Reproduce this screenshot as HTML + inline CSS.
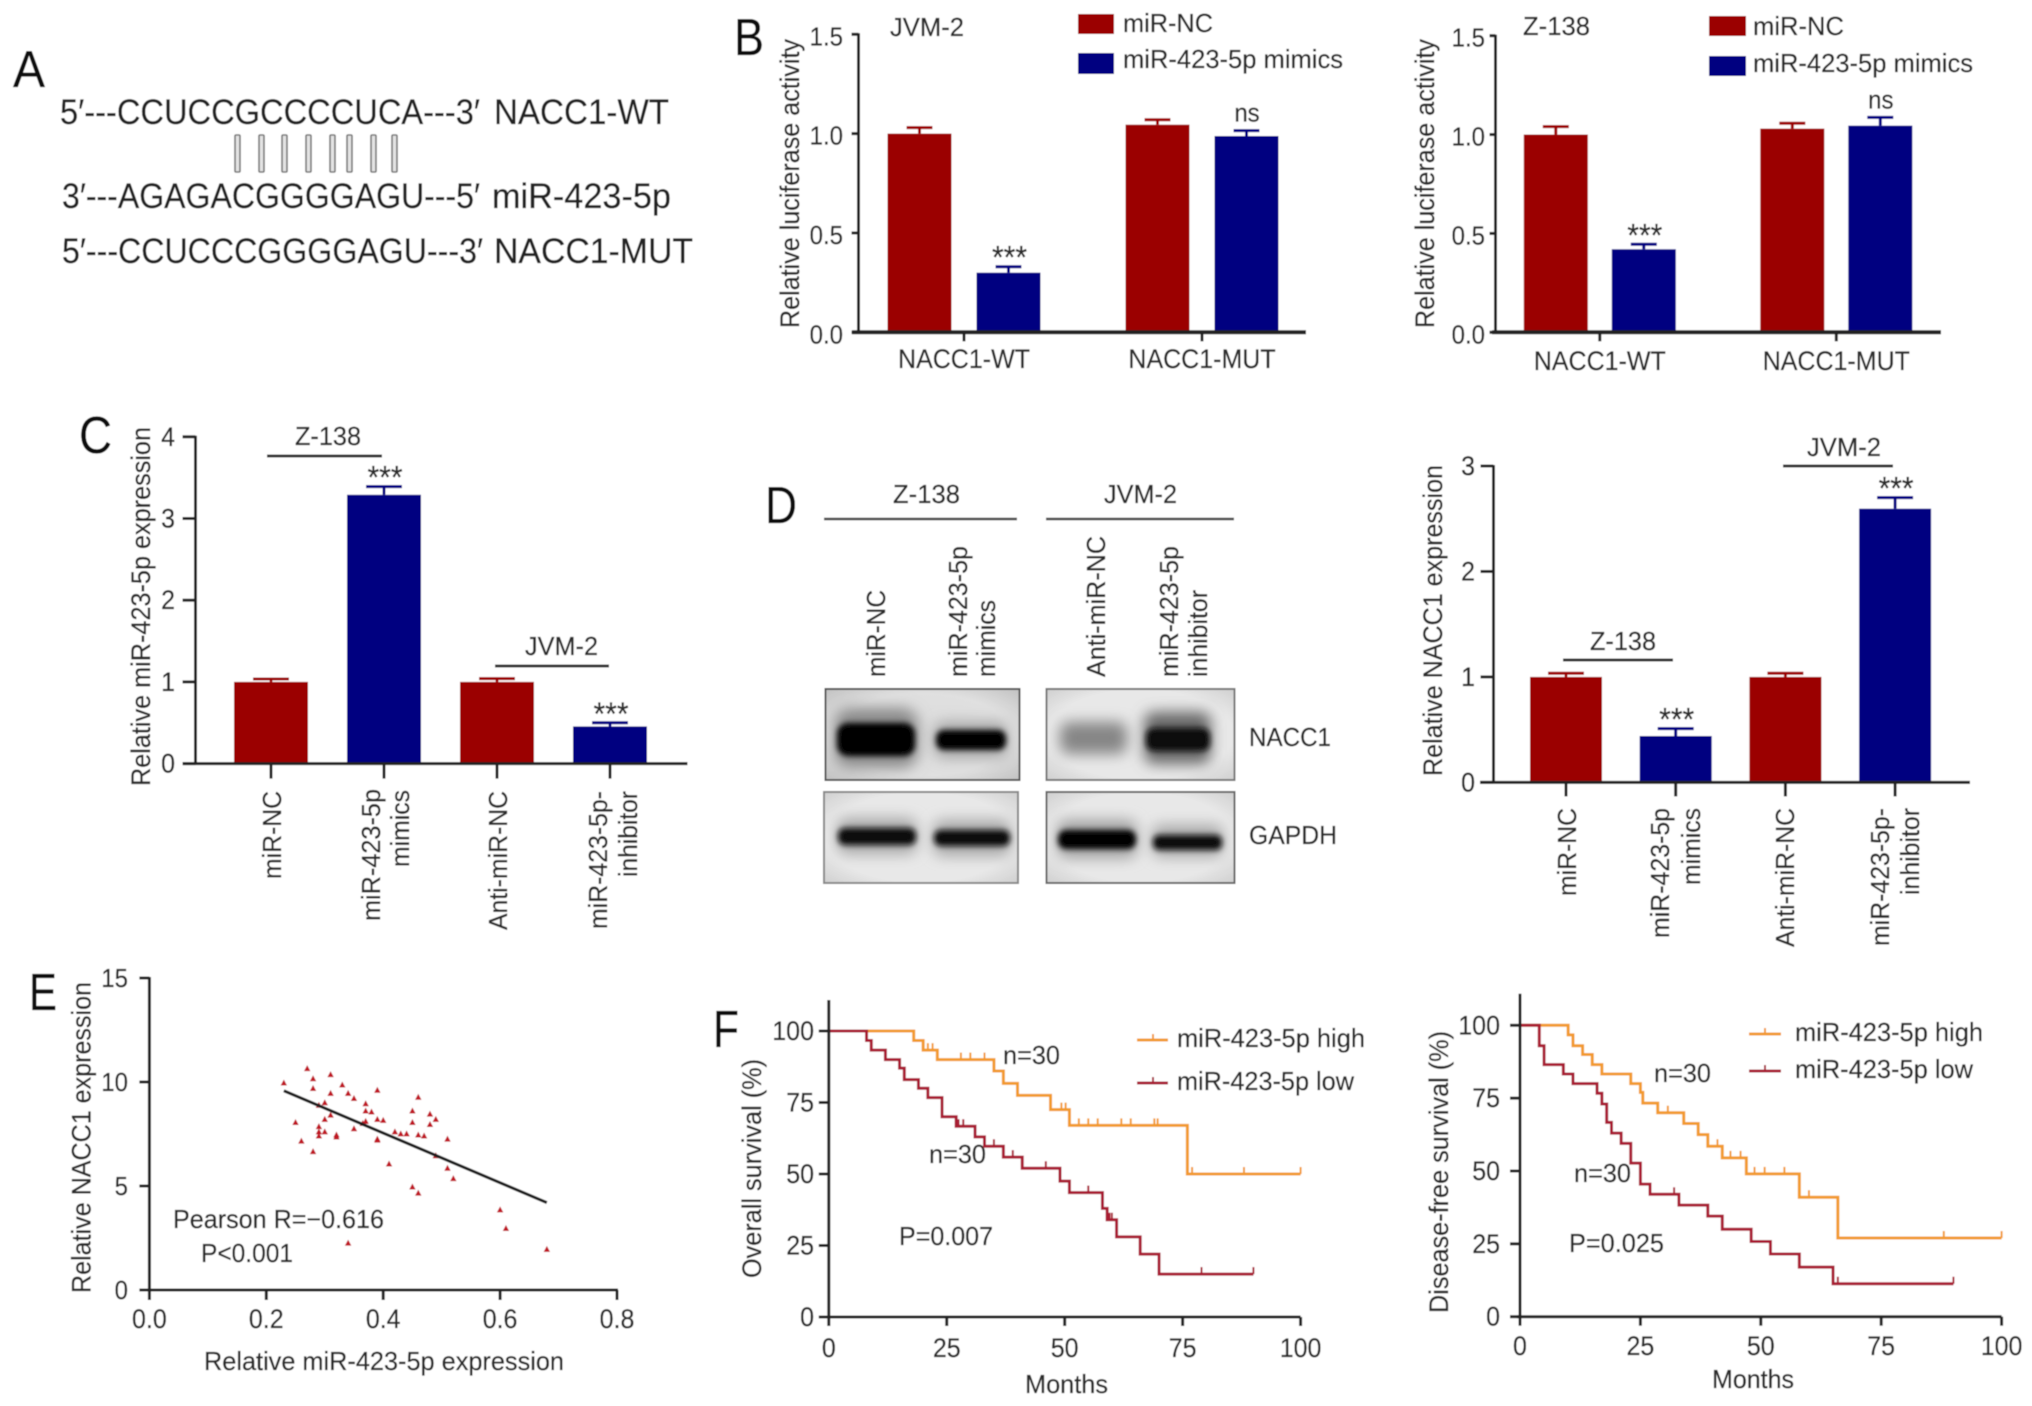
<!DOCTYPE html>
<html lang="en">
<head>
<meta charset="utf-8">
<title>miR-423-5p and NACC1 figure</title>
<style>
html,body{margin:0;padding:0;background:#fff;}
svg{display:block;}
text{font-family:"Liberation Sans",sans-serif;fill:#2c2c2c;stroke:#2c2c2c;stroke-width:0.3px;}
.letter{font-size:52px;fill:#111;stroke:#111;}
.seq{font-size:35px;fill:#222;stroke:#222;}
.lab{font-size:26px;}
.ttl{font-size:27px;}
</style>
</head>
<body>
<svg id="figure" xmlns="http://www.w3.org/2000/svg" width="2032" height="1406" viewBox="0 0 2032 1406">
<defs>
<filter id="soft" x="0" y="0" width="100%" height="100%" filterUnits="objectBoundingBox"><feGaussianBlur stdDeviation="0.6"/></filter>
<filter id="b2" x="-30%" y="-60%" width="160%" height="220%"><feGaussianBlur stdDeviation="3"/></filter>
<filter id="b6" x="-30%" y="-80%" width="160%" height="260%"><feGaussianBlur stdDeviation="7"/></filter>
<radialGradient id="blotBg" cx="50%" cy="50%" r="70%"><stop offset="0" stop-color="#dcdcdc"/><stop offset="0.65" stop-color="#e0e0e0"/><stop offset="1" stop-color="#c2c2c2"/></radialGradient>
<radialGradient id="blotBgLight" cx="50%" cy="50%" r="70%"><stop offset="0" stop-color="#e8e8e8"/><stop offset="0.7" stop-color="#e8e8e8"/><stop offset="1" stop-color="#d0d0d0"/></radialGradient>
<clipPath id="clipTL"><rect x="825" y="689" width="195" height="91"/></clipPath>
<clipPath id="clipTR"><rect x="1046" y="689" width="189" height="91"/></clipPath>
<clipPath id="clipBL"><rect x="824" y="792" width="194" height="91"/></clipPath>
<clipPath id="clipBR"><rect x="1046" y="792" width="189" height="91"/></clipPath>
</defs>
<g id="root" filter="url(#soft)">
<rect x="0" y="0" width="2032" height="1406" fill="#fff"/>

<!-- Panel letters -->
<text class="letter" x="13" y="87" textLength="32" lengthAdjust="spacingAndGlyphs">A</text>
<text class="letter" x="734" y="55" textLength="30" lengthAdjust="spacingAndGlyphs">B</text>
<text class="letter" x="79" y="453" textLength="33" lengthAdjust="spacingAndGlyphs">C</text>
<text class="letter" x="765" y="523" textLength="32" lengthAdjust="spacingAndGlyphs">D</text>
<text class="letter" x="29" y="1010" textLength="28" lengthAdjust="spacingAndGlyphs">E</text>
<text class="letter" x="713" y="1047" textLength="26" lengthAdjust="spacingAndGlyphs">F</text>

<!-- Panel A -->
<g>
<text class="seq" x="60" y="124" textLength="420" lengthAdjust="spacingAndGlyphs">5′---CCUCCGCCCCUCA---3′</text>
<text class="seq" x="494" y="124" textLength="175" lengthAdjust="spacingAndGlyphs">NACC1-WT</text>
<g fill="#e4e4e4" stroke="#777" stroke-width="1.6">
<rect x="235" y="135" width="5" height="37" rx="1"/>
<rect x="259" y="135" width="5" height="37" rx="1"/>
<rect x="282" y="135" width="5" height="37" rx="1"/>
<rect x="306" y="135" width="5" height="37" rx="1"/>
<rect x="330" y="135" width="5" height="37" rx="1"/>
<rect x="347" y="135" width="5" height="37" rx="1"/>
<rect x="371" y="135" width="5" height="37" rx="1"/>
<rect x="392" y="135" width="5" height="37" rx="1"/>
</g>
<text class="seq" x="62" y="208" textLength="418" lengthAdjust="spacingAndGlyphs">3′---AGAGACGGGGAGU---5′</text>
<text class="seq" x="492" y="208" textLength="179" lengthAdjust="spacingAndGlyphs">miR-423-5p</text>
<text class="seq" x="62" y="263" textLength="421" lengthAdjust="spacingAndGlyphs">5′---CCUCCCGGGGAGU---3′</text>
<text class="seq" x="494" y="263" textLength="199" lengthAdjust="spacingAndGlyphs">NACC1-MUT</text>
</g>

<!-- Panel B static labels -->
<g>
<text class="ttl" transform="translate(799,328) rotate(-90)" textLength="289" lengthAdjust="spacingAndGlyphs">Relative luciferase activity</text>
<text class="lab" x="890" y="36" textLength="74" lengthAdjust="spacingAndGlyphs">JVM-2</text>
<rect x="1078" y="14" width="36" height="20" fill="#9b0000"/>
<text class="lab" x="1123" y="32" textLength="90" lengthAdjust="spacingAndGlyphs">miR-NC</text>
<rect x="1078" y="53" width="36" height="21" fill="#000080"/>
<text class="lab" x="1123" y="68" textLength="220" lengthAdjust="spacingAndGlyphs">miR-423-5p mimics</text>
</g>
<g>
<text class="ttl" transform="translate(1434,328) rotate(-90)" textLength="289" lengthAdjust="spacingAndGlyphs">Relative luciferase activity</text>
<text class="lab" x="1523" y="35" textLength="67" lengthAdjust="spacingAndGlyphs">Z-138</text>
<rect x="1709" y="16" width="37" height="20" fill="#9b0000"/>
<text class="lab" x="1753" y="35" textLength="91" lengthAdjust="spacingAndGlyphs">miR-NC</text>
<rect x="1709" y="56" width="37" height="20" fill="#000080"/>
<text class="lab" x="1753" y="72" textLength="220" lengthAdjust="spacingAndGlyphs">miR-423-5p mimics</text>
</g>

<!-- Panel C static labels -->
<g>
<text class="ttl" transform="translate(150,786) rotate(-90)" textLength="359" lengthAdjust="spacingAndGlyphs">Relative miR-423-5p expression</text>
<text class="lab" x="295" y="445" textLength="66" lengthAdjust="spacingAndGlyphs">Z-138</text>
<line x1="267" y1="456" x2="382" y2="456" stroke="#333" stroke-width="3"/>
<text class="lab" x="525" y="655" textLength="73" lengthAdjust="spacingAndGlyphs">JVM-2</text>
<line x1="495" y1="666" x2="609" y2="666" stroke="#333" stroke-width="3"/>
<text class="lab" transform="translate(281,879) rotate(-90)" textLength="88" lengthAdjust="spacingAndGlyphs">miR-NC</text>
<text class="lab" transform="translate(380,921) rotate(-90)" textLength="132" lengthAdjust="spacingAndGlyphs">miR-423-5p</text>
<text class="lab" transform="translate(409,867) rotate(-90)" textLength="77" lengthAdjust="spacingAndGlyphs">mimics</text>
<text class="lab" transform="translate(507,930) rotate(-90)" textLength="139" lengthAdjust="spacingAndGlyphs">Anti-miR-NC</text>
<text class="lab" transform="translate(607,929) rotate(-90)" textLength="138" lengthAdjust="spacingAndGlyphs">miR-423-5p-</text>
<text class="lab" transform="translate(637,877) rotate(-90)" textLength="86" lengthAdjust="spacingAndGlyphs">inhibitor</text>
</g>

<!-- Panel D blots -->
<g>
<text class="lab" x="893" y="503" textLength="67" lengthAdjust="spacingAndGlyphs">Z-138</text>
<line x1="824" y1="519" x2="1017" y2="519" stroke="#444" stroke-width="2.4"/>
<text class="lab" x="1104" y="503" textLength="73" lengthAdjust="spacingAndGlyphs">JVM-2</text>
<line x1="1046" y1="519" x2="1234" y2="519" stroke="#444" stroke-width="2.4"/>
<text class="lab" transform="translate(885,677) rotate(-90)" textLength="87" lengthAdjust="spacingAndGlyphs">miR-NC</text>
<text class="lab" transform="translate(967,677) rotate(-90)" textLength="131" lengthAdjust="spacingAndGlyphs">miR-423-5p</text>
<text class="lab" transform="translate(995,677) rotate(-90)" textLength="77" lengthAdjust="spacingAndGlyphs">mimics</text>
<text class="lab" transform="translate(1105,677) rotate(-90)" textLength="141" lengthAdjust="spacingAndGlyphs">Anti-miR-NC</text>
<text class="lab" transform="translate(1178,677) rotate(-90)" textLength="131" lengthAdjust="spacingAndGlyphs">miR-423-5p</text>
<text class="lab" transform="translate(1207,677) rotate(-90)" textLength="87" lengthAdjust="spacingAndGlyphs">inhibitor</text>

<g>
<rect x="825.5" y="689" width="194" height="91" fill="url(#blotBg)"/>
<g clip-path="url(#clipTL)">
<rect x="834" y="708" width="84" height="60" rx="16" fill="#8a8a8a" filter="url(#b6)"/>
<rect x="837" y="723" width="78" height="33" rx="11" fill="#000" filter="url(#b2)"/>
<rect x="934" y="722" width="74" height="36" rx="10" fill="#a6a6a6" filter="url(#b6)"/>
<rect x="936" y="730" width="70" height="20" rx="8" fill="#060606" filter="url(#b2)"/>
</g>
<rect x="825.5" y="689" width="194" height="91" fill="none" stroke="#555" stroke-width="2"/>
</g>
<g>
<rect x="1046.5" y="689" width="188" height="91" fill="url(#blotBgLight)"/>
<g clip-path="url(#clipTR)">
<rect x="1060" y="722" width="67" height="32" rx="9" fill="#868686" filter="url(#b6)"/>
<rect x="1144" y="712" width="67" height="52" rx="10" fill="#686868" filter="url(#b6)"/>
<rect x="1146" y="728" width="64" height="23" rx="8" fill="#0a0a0a" filter="url(#b2)"/>
</g>
<rect x="1046.5" y="689" width="188" height="91" fill="none" stroke="#777" stroke-width="2"/>
</g>
<g>
<rect x="824" y="792" width="194" height="91" fill="url(#blotBgLight)"/>
<g clip-path="url(#clipBL)">
<rect x="837" y="818" width="80" height="36" rx="10" fill="#a8a8a8" filter="url(#b6)"/>
<rect x="838" y="828" width="78" height="17" rx="7" fill="#0b0b0b" filter="url(#b2)"/>
<rect x="933" y="820" width="78" height="36" rx="10" fill="#a8a8a8" filter="url(#b6)"/>
<rect x="934" y="830" width="76" height="16" rx="7" fill="#0e0e0e" filter="url(#b2)"/>
</g>
<rect x="824" y="792" width="194" height="91" fill="none" stroke="#888" stroke-width="2"/>
</g>
<g>
<rect x="1046.5" y="792" width="188" height="91" fill="url(#blotBgLight)"/>
<g clip-path="url(#clipBR)">
<rect x="1057" y="820" width="80" height="38" rx="10" fill="#a0a0a0" filter="url(#b6)"/>
<rect x="1058" y="830" width="78" height="19" rx="8" fill="#060606" filter="url(#b2)"/>
<rect x="1152" y="825" width="71" height="32" rx="9" fill="#a8a8a8" filter="url(#b6)"/>
<rect x="1153" y="835" width="69" height="15" rx="6" fill="#0e0e0e" filter="url(#b2)"/>
</g>
<rect x="1046.5" y="792" width="188" height="91" fill="none" stroke="#666" stroke-width="2"/>
</g>
<text class="lab" x="1249" y="746" textLength="82" lengthAdjust="spacingAndGlyphs">NACC1</text>
<text class="lab" x="1249" y="844" textLength="88" lengthAdjust="spacingAndGlyphs">GAPDH</text>
</g>

<!-- Panel D bar chart static labels -->
<g>
<text class="ttl" transform="translate(1442,776) rotate(-90)" textLength="311" lengthAdjust="spacingAndGlyphs">Relative NACC1 expression</text>
<text class="lab" x="1590" y="650" textLength="66" lengthAdjust="spacingAndGlyphs">Z-138</text>
<line x1="1563" y1="660" x2="1673" y2="660" stroke="#333" stroke-width="3"/>
<text class="lab" x="1807" y="456" textLength="74" lengthAdjust="spacingAndGlyphs">JVM-2</text>
<line x1="1783" y1="466" x2="1893" y2="466" stroke="#333" stroke-width="3"/>
<text class="lab" transform="translate(1576,896) rotate(-90)" textLength="88" lengthAdjust="spacingAndGlyphs">miR-NC</text>
<text class="lab" transform="translate(1669,938) rotate(-90)" textLength="130" lengthAdjust="spacingAndGlyphs">miR-423-5p</text>
<text class="lab" transform="translate(1700,885) rotate(-90)" textLength="77" lengthAdjust="spacingAndGlyphs">mimics</text>
<text class="lab" transform="translate(1794,947) rotate(-90)" textLength="139" lengthAdjust="spacingAndGlyphs">Anti-miR-NC</text>
<text class="lab" transform="translate(1889,946) rotate(-90)" textLength="138" lengthAdjust="spacingAndGlyphs">miR-423-5p-</text>
<text class="lab" transform="translate(1919,895) rotate(-90)" textLength="87" lengthAdjust="spacingAndGlyphs">inhibitor</text>
</g>

<!-- Panel E static labels -->
<g>
<text class="ttl" transform="translate(90.5,1293) rotate(-90)" textLength="311" lengthAdjust="spacingAndGlyphs">Relative NACC1 expression</text>
<text class="lab" x="204" y="1370" textLength="360" lengthAdjust="spacingAndGlyphs">Relative miR-423-5p expression</text>
<text class="lab" x="173" y="1228" textLength="211" lengthAdjust="spacingAndGlyphs">Pearson R=−0.616</text>
<text class="lab" x="201" y="1262" textLength="92" lengthAdjust="spacingAndGlyphs">P&lt;0.001</text>
</g>

<!-- Panel F static labels -->
<g>
<text class="ttl" transform="translate(761,1278) rotate(-90)" textLength="219" lengthAdjust="spacingAndGlyphs">Overall survival (%)</text>
<text class="lab" x="1025" y="1393" textLength="83" lengthAdjust="spacingAndGlyphs">Months</text>
<text class="lab" x="1003" y="1064" textLength="57" lengthAdjust="spacingAndGlyphs">n=30</text>
<text class="lab" x="929" y="1163" textLength="57" lengthAdjust="spacingAndGlyphs">n=30</text>
<text class="lab" x="899" y="1245" textLength="94" lengthAdjust="spacingAndGlyphs">P=0.007</text>
<line x1="1137" y1="1040" x2="1168" y2="1040" stroke="#f29a2e" stroke-width="3"/>
<line x1="1153" y1="1040" x2="1153" y2="1034" stroke="#f29a2e" stroke-width="2"/>
<text class="lab" x="1177" y="1047" textLength="188" lengthAdjust="spacingAndGlyphs">miR-423-5p high</text>
<line x1="1137" y1="1083" x2="1168" y2="1083" stroke="#a81c30" stroke-width="3"/>
<line x1="1153" y1="1083" x2="1153" y2="1077" stroke="#a81c30" stroke-width="2"/>
<text class="lab" x="1177" y="1090" textLength="177" lengthAdjust="spacingAndGlyphs">miR-423-5p low</text>
</g>
<g>
<text class="ttl" transform="translate(1448,1313) rotate(-90)" textLength="282" lengthAdjust="spacingAndGlyphs">Disease-free survival (%)</text>
<text class="lab" x="1712" y="1388" textLength="82" lengthAdjust="spacingAndGlyphs">Months</text>
<text class="lab" x="1654" y="1082" textLength="57" lengthAdjust="spacingAndGlyphs">n=30</text>
<text class="lab" x="1574" y="1182" textLength="57" lengthAdjust="spacingAndGlyphs">n=30</text>
<text class="lab" x="1569" y="1252" textLength="95" lengthAdjust="spacingAndGlyphs">P=0.025</text>
<line x1="1749" y1="1034" x2="1781" y2="1034" stroke="#f29a2e" stroke-width="3"/>
<line x1="1765" y1="1034" x2="1765" y2="1028" stroke="#f29a2e" stroke-width="2"/>
<text class="lab" x="1795" y="1041" textLength="188" lengthAdjust="spacingAndGlyphs">miR-423-5p high</text>
<line x1="1749" y1="1071" x2="1781" y2="1071" stroke="#a81c30" stroke-width="3"/>
<line x1="1765" y1="1071" x2="1765" y2="1065" stroke="#a81c30" stroke-width="2"/>
<text class="lab" x="1795" y="1078" textLength="178" lengthAdjust="spacingAndGlyphs">miR-423-5p low</text>
</g>
</g>
</svg>

<script>
// ---- Panel B, JVM-2 ----
const b1Categories = ['NACC1-WT', 'NACC1-MUT'];
const b1Series = ['miR-NC', 'mimics', 'miR-NC', 'mimics'];
const b1Values = [1.0, 0.30, 1.045, 0.988];
const b1ErrorTops = [1.03, 0.33, 1.07, 1.015];
const b1Significance = ['', '***', '', 'ns'];
// ---- Panel B, Z-138 ----
const b2Categories = ['NACC1-WT', 'NACC1-MUT'];
const b2Series = ['miR-NC', 'mimics', 'miR-NC', 'mimics'];
const b2Values = [1.0, 0.42, 1.03, 1.045];
const b2ErrorTops = [1.04, 0.445, 1.057, 1.087];
const b2Significance = ['', '***', '', 'ns'];
const bTicks = [0, 0.5, 1.0, 1.5];
// ---- Panel C ----
const cSeries = ['miR-NC', 'mimics', 'anti-miR-NC', 'inhibitor'];
const cValues = [1.0, 3.29, 1.0, 0.455];
const cErrorTops = [1.035, 3.39, 1.04, 0.50];
const cSignificance = ['', '***', '', '***'];
const cTicks = [0, 1, 2, 3, 4];
// ---- Panel D chart ----
const dSeries = ['miR-NC', 'mimics', 'anti-miR-NC', 'inhibitor'];
const dValues = [1.0, 0.44, 1.0, 2.595];
const dErrorTops = [1.035, 0.51, 1.035, 2.70];
const dSignificance = ['', '***', '', '***'];
const dTicks = [0, 1, 2, 3];
// ---- Panel E ----
const eXValues = [0.23,0.27,0.28,0.28,0.31,0.33,0.31,0.34,0.35,0.39,0.46,0.30,0.29,0.37,0.37,0.38,0.45,0.48,0.49,0.31,0.30,0.39,0.40,0.25,0.37,0.365,0.45,0.48,0.29,0.35,0.30,0.29,0.29,0.42,0.43,0.44,0.46,0.47,0.32,0.32,0.39,0.39,0.51,0.26,0.28,0.49,0.41,0.51,0.52,0.45,0.46,0.60,0.61,0.34,0.68];
const eYValues = [9.95,10.64,10.15,9.68,10.35,9.85,9.45,9.45,9.2,9.6,9.26,9.0,8.88,8.95,8.6,8.55,8.6,8.45,8.2,8.4,8.2,8.2,8.15,8.05,8.1,8.0,8.05,7.95,7.85,7.75,7.6,7.6,7.4,7.6,7.5,7.5,7.45,7.4,7.45,7.35,7.25,7.2,7.25,7.15,6.65,6.45,6.05,5.85,5.35,4.95,4.65,3.85,2.95,2.25,1.95];
const eTrendX = [0.23, 0.68];
const eTrendY = [9.58, 4.2];
const eXTicks = [0, 0.2, 0.4, 0.6, 0.8];
const eYTicks = [0, 5, 10, 15];
// ---- Panel F, overall survival ----
const f1HighTimes = [18,20,23,35,37,40,47,51,76];
const f1HighSurvival = [96.7,93.3,90,86,81.7,77.5,72.5,67,50];
const f1HighCensored = [21,22,28,30,33,49.3,50.2,53,55,57,62,64,69,69.7,77,88,100];
const f1HighEnd = [100];
const f1LowTimes = [8,9,12,15,16,19,21,24,27,31,33,37,41,49,51,58,59,61,66,70];
const f1LowSurvival = [96.7,93.3,90,87,83,80,76.7,70,66.7,63,59.7,55.9,52,47.5,43.5,38,34,28,22,15];
const f1LowCensored = [27.5,28.5,35,39,46,55,59.5,60,79,90];
const f1LowEnd = [90];
// ---- Panel F, disease-free survival ----
const f2HighTimes = [10,11,13,15,17,23,25,25.5,28.6,34,37,39,42,47,58,66];
const f2HighSurvival = [96.7,93,90,86.5,83.3,80,77,73.3,70,66.3,62.5,58.5,54.5,49,41,27];
const f2HighCensored = [30.7,41,43.7,45.8,48.7,50.8,54.9,60,88,100];
const f2HighEnd = [100];
const f2LowTimes = [4,5,9,11,16,17,18,19,21,23,25,27,33,39,42,48,52,58,65];
const f2LowSurvival = [93,86.5,83.3,80,76.7,73,66.7,63,59.5,52.7,45.5,42,38.3,34.5,30,25.8,21.5,17,11.3];
const f2LowCensored = [32,66,90];
const f2LowEnd = [90];
const fXTicks = [0, 25, 50, 75, 100];
const fYTicks = [0, 25, 50, 75, 100];

const NS = 'http://www.w3.org/2000/svg';
const root = document.getElementById('root');
const INK = '#222';
const RED = '#9b0000';
const BLUE = '#000080';
const ORANGE = '#f29a2e';
const CRIMSON = '#a81c30';

function scale(d0, d1, r0, r1) {
  return function (v) { return r0 + (v - d0) * (r1 - r0) / (d1 - d0); };
}
function group(parent, name) {
  const g = document.createElementNS(NS, 'g');
  
  
  parent.appendChild(g);
  return g;
}
function line(parent, x1, y1, x2, y2, w, color, name) {
  const l = document.createElementNS(NS, 'line');
  l.setAttribute('x1', x1);
  l.setAttribute('y1', y1);
  l.setAttribute('x2', x2);
  l.setAttribute('y2', y2);
  l.setAttribute('stroke', color);
  l.setAttribute('stroke-width', w);
  
  
  parent.appendChild(l);
  return l;
}
function label(parent, str, x, y, size, anchor, name) {
  const t = document.createElementNS(NS, 'text');
  t.setAttribute('x', x);
  t.setAttribute('y', y);
  t.setAttribute('font-size', size);
  t.setAttribute('text-anchor', anchor);
  
  
  t.textContent = str;
  parent.appendChild(t);
  // Keep the measured width but draw taller glyphs, as in the reference.
  const width = t.getComputedTextLength();
  t.setAttribute('font-size', size * 1.08);
  t.setAttribute('textLength', width);
  t.setAttribute('lengthAdjust', 'spacingAndGlyphs');
  return t;
}
function yAxis(parent, cfg, ticks, yS, fmt) {
  line(parent, cfg.axisX, yS(cfg.yTop) - 1, cfg.axisX, yS(0) + 1, 3, INK, 'y-axis-line');
  ticks.forEach(function (v) {
    const y = yS(v);
    line(parent, cfg.axisX - cfg.yTickLen, y, cfg.axisX, y, 3, INK, 'y-tick');
    label(parent, fmt(v), cfg.yLabelRight, y + cfg.yLabelDy, cfg.size, 'end', 'y-tick-label');
  });
}
function barChart(name, cfg, series, values, errTops, sig, ticks, fmt, tickLabels) {
  const g = group(root, name);
  const yS = scale(0, cfg.yTop, cfg.y0, cfg.y1);
  const cx = function (i) {
    if (cfg.pairStep) return cfg.x0 + Math.floor(i / 2) * cfg.groupStep + (i % 2) * cfg.pairStep;
    return cfg.x0 + i * cfg.groupStep;
  };
  values.forEach(function (v, i) {
    const color = i % 2 === 0 ? RED : BLUE;
    const x = cx(i);
    const eTop = yS(errTops[i]);
    line(g, x, yS(v), x, eTop, 3, color, 'error-bar');
    line(g, x - cfg.capW / 2, eTop, x + cfg.capW / 2, eTop, 3, color, 'error-cap');
    const r = document.createElementNS(NS, 'rect');
    r.setAttribute('x', x - cfg.barW / 2);
    r.setAttribute('y', yS(v));
    r.setAttribute('width', cfg.barW);
    r.setAttribute('height', cfg.y0 - yS(v));
    r.setAttribute('fill', color);
    
    
    g.appendChild(r);
    if (sig[i] === '***') {
      label(g, '***', x + 1, eTop + 2, 30, 'middle', 'significance-stars');
    } else if (sig[i] === 'ns') {
      label(g, 'ns', x + 0.5, eTop - 9, 24, 'middle', 'significance-ns');
    }
  });
  line(g, cfg.xStart, cfg.y0, cfg.xEnd, cfg.y0, cfg.xAxisW, INK, 'x-axis-line');
  const groupSize = cfg.pairStep ? 2 : 1;
  for (let i = 0; i < values.length; i += groupSize) {
    const tx = cfg.pairStep ? (cx(i) + cx(i + 1)) / 2 : cx(i);
    line(g, tx, cfg.y0, tx, cfg.y0 + cfg.xTickLen, 3, INK, 'x-tick');
    if (tickLabels) {
      label(g, tickLabels[i / groupSize], tx, cfg.xLabelY, 25, 'middle', 'x-tick-label');
    }
  }
  yAxis(g, cfg, ticks, yS, fmt);
}
function stepCurve(parent, name, color, xS, yS, times, surv, censored, end) {
  const g = group(parent, name);
  let d = 'M' + xS(0) + ' ' + yS(100);
  times.forEach(function (t, i) {
    d += 'H' + xS(t) + 'V' + yS(surv[i]);
  });
  d += 'H' + xS(end[0]);
  const p = document.createElementNS(NS, 'path');
  p.setAttribute('d', d);
  p.setAttribute('fill', 'none');
  p.setAttribute('stroke', color);
  p.setAttribute('stroke-width', 3);
  
  
  g.appendChild(p);
  censored.forEach(function (t) {
    let s = 100;
    times.forEach(function (tt, i) { if (tt <= t) s = surv[i]; });
    line(g, xS(t), yS(s), xS(t), yS(s) - 7, 2, color, 'censor-mark');
  });
}
function kmChart(name, cfg, high, low) {
  const g = group(root, name);
  const xS = scale(0, 100, cfg.x0, cfg.x1);
  const yS = scale(0, 100, cfg.y0, cfg.y100);
  stepCurve(g, 'curve-high', ORANGE, xS, yS, high[0], high[1], high[2], high[3]);
  stepCurve(g, 'curve-low', CRIMSON, xS, yS, low[0], low[1], low[2], low[3]);
  const axisCfg = {axisX: cfg.x0, yTop: cfg.yTop, yTickLen: 10, yLabelRight: cfg.yLabelRight, yLabelDy: 9, size: 25};
  yAxis(g, axisCfg, fYTicks, yS, String);
  line(g, cfg.x0 - 3, cfg.y0, cfg.x1, cfg.y0, 3, INK, 'x-axis-line');
  fXTicks.forEach(function (t) {
    line(g, xS(t), cfg.y0, xS(t), cfg.y0 + 9, 3, INK, 'x-tick');
    label(g, String(t), xS(t), cfg.xLabelY, 25, 'middle', 'x-tick-label');
  });
}

barChart('bar-chart-b-jvm2',
  {x0: 919.5, groupStep: 238, pairStep: 89, barW: 64, capW: 26, y0: 332.3, y1: 34.3, yTop: 1.5, axisX: 858.5, yTickLen: 7, yLabelRight: 843, yLabelDy: 11, size: 24, xStart: 852, xEnd: 1306, xAxisW: 4, xTickLen: 9, xLabelY: 368},
  b1Series, b1Values, b1ErrorTops, b1Significance, bTicks, function (v) { return v.toFixed(1); }, b1Categories);
barChart('bar-chart-b-z138',
  {x0: 1555.8, groupStep: 236.5, pairStep: 88, barW: 64, capW: 26, y0: 332.3, y1: 35.7, yTop: 1.5, axisX: 1495.5, yTickLen: 6, yLabelRight: 1485, yLabelDy: 11, size: 24, xStart: 1492, xEnd: 1941, xAxisW: 4, xTickLen: 9, xLabelY: 370},
  b2Series, b2Values, b2ErrorTops, b2Significance, bTicks, function (v) { return v.toFixed(1); }, b2Categories);
barChart('bar-chart-c',
  {x0: 271, groupStep: 113, barW: 74, capW: 36, y0: 763.6, y1: 436.8, yTop: 4, axisX: 195.5, yTickLen: 13, yLabelRight: 175, yLabelDy: 9, size: 25, xStart: 183, xEnd: 687.5, xAxisW: 3, xTickLen: 15, xLabelY: 0},
  cSeries, cValues, cErrorTops, cSignificance, cTicks, String, null);
barChart('bar-chart-d',
  {x0: 1566, groupStep: 109.7, barW: 72, capW: 36, y0: 782.4, y1: 466, yTop: 3, axisX: 1493.5, yTickLen: 13, yLabelRight: 1475, yLabelDy: 9, size: 25, xStart: 1480, xEnd: 1970, xAxisW: 3, xTickLen: 14, xLabelY: 0},
  dSeries, dValues, dErrorTops, dSignificance, dTicks, String, null);

// Scatter chart (panel E)
(function () {
  const g = group(root, 'scatter-chart-e');
  const xS = scale(0, 0.8, 149.4, 617);
  const yS = scale(0, 15, 1290, 978);
  eXValues.forEach(function (xv, i) {
    const px = xS(xv);
    const py = yS(eYValues[i]);
    const p = document.createElementNS(NS, 'path');
    p.setAttribute('d', 'M' + px + ' ' + (py - 3.6) + 'L' + (px + 3.2) + ' ' + (py + 2.4) + 'L' + (px - 3.2) + ' ' + (py + 2.4) + 'Z');
    p.setAttribute('fill', '#c01824');
    
    
    g.appendChild(p);
  });
  line(g, xS(eTrendX[0]), yS(eTrendY[0]), xS(eTrendX[1]), yS(eTrendY[1]), 3, '#1c1c1c', 'trend-line');
  yAxis(g, {axisX: 149.4, yTop: 15, yTickLen: 10, yLabelRight: 128, yLabelDy: 9, size: 24}, eYTicks, yS, String);
  line(g, 140, 1290, 618, 1290, 3, INK, 'x-axis-line');
  eXTicks.forEach(function (v) {
    line(g, xS(v), 1290, xS(v), 1300, 3, INK, 'x-tick');
    label(g, v.toFixed(1), xS(v), 1328, 25, 'middle', 'x-tick-label');
  });
})();

kmChart('survival-chart-overall',
  {x0: 828.8, x1: 1300.6, y0: 1317, y100: 1031, yTop: 110.5, yLabelRight: 814, xLabelY: 1357},
  [f1HighTimes, f1HighSurvival, f1HighCensored, f1HighEnd],
  [f1LowTimes, f1LowSurvival, f1LowCensored, f1LowEnd]);
kmChart('survival-chart-disease-free',
  {x0: 1520, x1: 2001.6, y0: 1316.7, y100: 1025.3, yTop: 110.5, yLabelRight: 1500, xLabelY: 1355},
  [f2HighTimes, f2HighSurvival, f2HighCensored, f2HighEnd],
  [f2LowTimes, f2LowSurvival, f2LowCensored, f2LowEnd]);
</script>
</body>
</html>
